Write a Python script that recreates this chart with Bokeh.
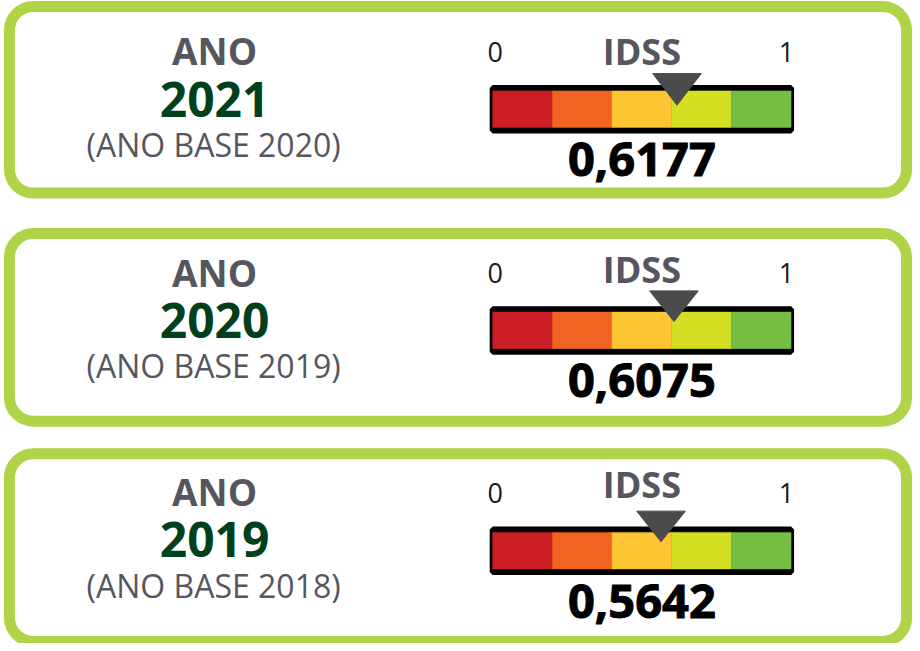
from bokeh.plotting import figure
from bokeh.models import ColumnDataSource, Range1d
from bokeh.embed import file_html
from bokeh.resources import INLINE
from bokeh.core.properties import value

# ---- data ----
years = ["2021", "2020", "2019"]
base_years = ["2020", "2019", "2018"]
idss = [0.6177, 0.6075, 0.5642]
scale_edges = [0.0, 0.2, 0.4, 0.6, 0.8, 1.0]
scale_colors = ["#cc1e24", "#f16322", "#fdc433", "#d4df24", "#76be43"]
scale_tick_values = [0.0, 1.0]
scale_tick_labels = ["0", "1"]
index_name = "IDSS"
year_word = "ANO"

# ---- layout (reference picture pixels) ----
BAR_X0, BAR_W = 496.5, 301.0


def px(x):
    return (x - BAR_X0) / BAR_W


def base(y, size):
    # compensate for where the renderer puts the alphabetic baseline
    return y - 0.38 * size


text_dy = [0, 224, 446]
idss_dy = [0, 221, 439]
bar_dy = [0, 224, 447]
panel_top = [6, 236, 459]
panel_bottom = [195, 426, 649]
tri_top = [74, 294, 517]
tri_tip = [106, 325, 548]
TRI_HALF = 24.5 / BAR_W

GRAY = "#56565f"
DARK_GREEN = "#00401a"
BORDER = "#b0d448"

p = figure(width=912, height=643,
           x_range=Range1d(px(0), px(920)), y_range=Range1d(651, 0),
           output_backend="svg", toolbar_location=None,
           x_axis_type=None, y_axis_type=None, min_border=0)
p.outline_line_color = None
p.background_fill_color = "white"
p.border_fill_color = "white"
p.xgrid.visible = False
p.ygrid.visible = False

n = len(years)

# panels
p.quad(left=[px(9)] * n, right=[px(914)] * n, top=panel_top, bottom=panel_bottom,
       fill_color="white", line_color=BORDER, line_width=11, border_radius=24)

# bar frames
p.quad(left=[scale_edges[0]] * n, right=[scale_edges[-1]] * n,
       top=[88.5 + d for d in bar_dy], bottom=[131.5 + d for d in bar_dy],
       fill_color="black", line_color="black", line_width=6)

# colour segments
seg = dict(left=[], right=[], top=[], bottom=[], color=[])
for i in range(n):
    for j, c in enumerate(scale_colors):
        seg["left"].append(scale_edges[j])
        seg["right"].append(scale_edges[j + 1])
        seg["top"].append(91.5 + bar_dy[i])
        seg["bottom"].append(128.5 + bar_dy[i])
        seg["color"].append(c)
p.quad(left="left", right="right", top="top", bottom="bottom", fill_color="color",
       line_color="color", line_width=0.5, source=ColumnDataSource(seg))

# markers
tri = ColumnDataSource(dict(
    xs=[[v - TRI_HALF, v + TRI_HALF, v] for v in idss],
    ys=[[tri_top[i], tri_top[i], tri_tip[i]] for i in range(n)],
))
p.patches("xs", "ys", source=tri, fill_color="#4a4b4b", line_color="#4a4b4b")

# left texts
s = 37
p.text(x=[px(216)] * n, y=[base(65 + d, s) for d in text_dy], text=[year_word] * n,
       text_font=value("Open Sans"), text_font_style="bold", text_font_size=f"{s}px",
       text_color=GRAY, text_align="center", text_baseline="alphabetic")
s = 48
p.text(x=[px(216)] * n, y=[base(118 + d, s) for d in text_dy], text=years,
       text_font=value("Open Sans"), text_font_style="bold", text_font_size=f"{s}px",
       text_color=DARK_GREEN, text_align="center", text_baseline="alphabetic")
s = 32
p.text(x=[px(215)] * n, y=[base(160 + d, s) - 2 for d in text_dy],
       text=[f"(ANO BASE {b})" for b in base_years],
       text_font=value("Open Sans"), text_font_size=f"{s}px",
       text_color=GRAY, text_align="center", text_baseline="alphabetic")

# IDSS title
s = 36
p.text(x=[0.5] * n, y=[base(64 + d, s) + 1 for d in idss_dy], text=[index_name] * n,
       text_font=value("Open Sans"), text_font_style="bold", text_font_size=f"{s}px",
       text_color=GRAY, text_align="center", text_baseline="alphabetic")

# scale end labels
s = 27
tk = dict(x=[], y=[], t=[], off=[])
for i in range(n):
    for v, lab in zip(scale_tick_values, scale_tick_labels):
        tk["x"].append(v)
        tk["y"].append(base(63 + bar_dy[i], s) - 1)
        tk["t"].append(lab)
        tk["off"].append(2.5 if v == 0 else -4.5)
p.text(x="x", y="y", text="t", x_offset="off", source=ColumnDataSource(tk),
       text_font=value("Open Sans"), text_font_size=f"{s}px", text_color="#1a1a1a",
       text_align="center", text_baseline="alphabetic")

# values
s = 47
p.text(x=[0.5] * n, y=[base(178 + d, s) + 1 for d in bar_dy],
       text=[f"{v:.4f}".replace(".", ",") for v in idss],
       text_font=value("Open Sans"), text_font_style="bold", text_font_size=f"{s}px",
       text_color="black", text_outline_color="black",
       text_align="center", text_baseline="alphabetic")

open("out.html", "w").write(file_html(p, INLINE))
